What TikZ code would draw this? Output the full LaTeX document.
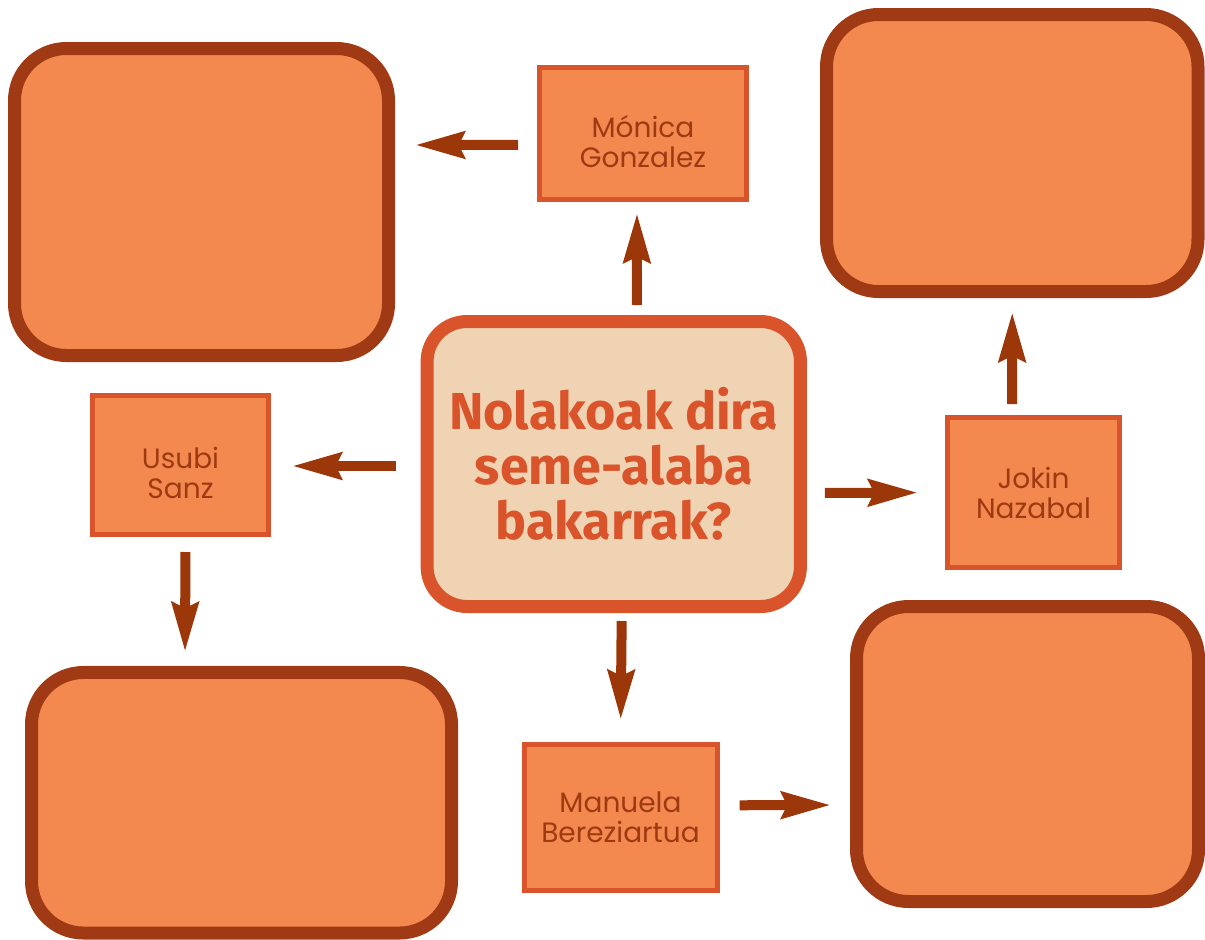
\documentclass[tikz,border=0pt]{standalone}
\usepackage{fontspec}
\setmainfont{Poppins}
\newfontfamily\titlefont{Fira Sans}
\usetikzlibrary{arrows.meta}
\definecolor{boxfill}{HTML}{F4894F}
\definecolor{boxline}{HTML}{A03A15}
\definecolor{nameline}{HTML}{D9532B}
\definecolor{questfill}{HTML}{F0D3B2}
\definecolor{arrowcol}{HTML}{9B3709}
\definecolor{namecol}{HTML}{9E3A12}
\newcommand{\topgap}{\rule{0pt}{28pt}}
\begin{document}
\begin{tikzpicture}[x=0.75pt,y=-0.75pt,
    bigbox/.style={draw=boxline,fill=boxfill,line width=9.75pt,rounded corners=39pt,inner sep=0pt},
    namebox/.style={draw=nameline,fill=boxfill,line width=3.75pt,inner sep=0pt,align=center,
        text=namecol,font=\fontsize{21}{22.5}\selectfont},
    arr/.style={draw=arrowcol,line width=7.5pt,-{Stealth[length=36.75pt,width=19.5pt,inset=4pt]}}]
    \useasboundingbox (0,0) rectangle (1205,939);

    %Question
    \node[draw=nameline,fill=questfill,line width=9.75pt,rounded corners=30pt,
        minimum width=280pt,minimum height=213.75pt,align=center,text=nameline,
        font=\titlefont\bfseries\fontsize{39}{41.25}\selectfont] (quest) at (613.75,464)
        {Nolakoak dira\\seme-alaba\\bakarrak?};
    %Names
    \node[namebox,minimum width=155.25pt,minimum height=99pt] (monica) at (643,133.5) {\topgap M\'onica\\Gonzalez};
    \node[namebox,minimum width=132pt,minimum height=104.25pt] (usubi) at (180.5,465) {\topgap Usubi\\Sanz};
    \node[namebox,minimum width=129pt,minimum height=112.5pt] (jokin) at (1033.5,492.5) {Jokin\\Nazabal};
    \node[namebox,minimum width=144.75pt,minimum height=109.5pt] (manuela) at (620.5,817.3) {Manuela\\Bereziartua};
    %Empty boxes
    \node[bigbox,minimum width=280.5pt,minimum height=230.25pt] (boxTL) at (201.5,202) {};
    \node[bigbox,minimum width=278.6pt,minimum height=207.75pt] (boxTR) at (1012.25,153) {};
    \node[bigbox,minimum width=315pt,minimum height=195.4pt] (boxBL) at (241.5,802.75) {};
    \node[bigbox,minimum width=256.5pt,minimum height=221.25pt] (boxBR) at (1027.5,754) {};

    %Arrows
    \draw[arr,shorten <=14.25pt,shorten >=15pt] ([yshift=-8.6pt]monica.west) -- ([yshift=42.75pt]boxTL.east);
    \draw[arr,shorten <=7.5pt,shorten >=8.25pt] ([xshift=17.25pt]quest.north) -- ([xshift=-4.5pt]monica.south);
    \draw[arr,shorten <=18.75pt,shorten >=15.75pt] ([yshift=-1.5pt]quest.west) -- ([yshift=-0.75pt]usubi.east);
    \draw[arr,shorten <=11.25pt,shorten >=10.5pt] ([xshift=3.75pt]usubi.south) -- ([xshift=-42.4pt]boxBL.north);
    \draw[arr,shorten <=6pt,shorten >=16.5pt] ([xshift=6pt]quest.south) -- (manuela.north);
    \draw[arr,shorten <=15pt,shorten >=14.25pt] ([yshift=9pt]manuela.east) -- ([yshift=-38.25pt]boxBR.west);
    \draw[arr,shorten <=13.5pt,shorten >=20.25pt] ([yshift=-21.75pt]quest.east) -- (jokin.west);
    \draw[arr,shorten <=8.25pt,shorten >=10.5pt] ([xshift=-16.1pt]jokin.north) -- (boxTR.south);
\end{tikzpicture}
\end{document}
